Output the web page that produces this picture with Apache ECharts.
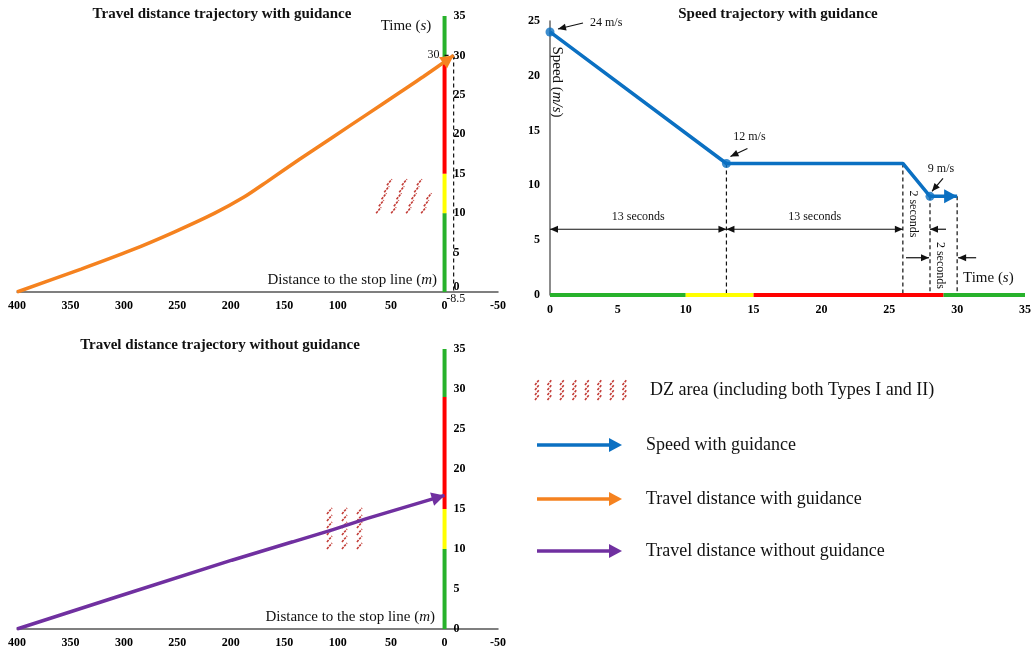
<!DOCTYPE html>
<html>
<head>
<meta charset="utf-8">
<title>Trajectories with and without guidance</title>
<script src="https://cdn.jsdelivr.net/npm/echarts@6/dist/echarts.min.js"></script>
<style>
  html, body { margin: 0; padding: 0; background: #fff; }
  #chart { width: 1034px; height: 652px; }
</style>
</head>
<body>
<div id="chart"></div>
<script>
// ---------------- data ----------------
// axis ticks
const distanceTicks = [400, 350, 300, 250, 200, 150, 100, 50, 0, -50]; // distance to stop line (m)
const timeTicks = [0, 5, 10, 15, 20, 25, 30, 35];                     // time (s)
const speedTicks = [0, 5, 10, 15, 20, 25];                            // speed (m/s)

// signal timing at the stop line (s)
const signalBreaks = [0, 10, 15, 29, 35];
const signalPhases = ['green', 'yellow', 'red', 'green'];

// travel distance with guidance
const guidedDistance = [400, 340, 293, 253, 215, 188, 166, 136, 105, 74, 42, 20, -8.5];
const guidedTime     = [0, 2.9, 5.3, 7.6, 10.0, 12.0, 14.0, 16.8, 19.6, 22.4, 25.3, 27.3, 30];

// travel distance without guidance
const unguidedDistance = [400, 307, 199, 142, 105, 73, 0];
const unguidedTime     = [0, 4.0, 8.6, 10.9, 12.4, 13.8, 16.7];

// speed profile with guidance
const speedTime  = [0, 13, 26, 28, 30];
const speedValue = [24, 12, 12, 9, 9];
const speedMarked = [0, 1, 3]; // profile points carrying a value call-out

// dilemma-zone areas: [distance from, distance to, time from, time to]
const dzGuided   = [12, 64, 10, 15];
const dzUnguided = [77, 110, 10, 15];

// ---------------- styling ----------------
const FONT = '"Liberation Serif", "Times New Roman", serif';
const INK = '#111';
const PHASE_COLOR = { green: '#27b22b', yellow: '#ffff00', red: '#ff0000' };
const ORANGE = '#f5821f';
const PURPLE = '#7030a0';
const BLUE = '#0b70c2';
const HATCH = '#c23b35';

// distance panels share this horizontal geometry
const DIST_LEFT = 17, DIST_RIGHT = 536, CHART_W = 1034;

function axisRange(ticks) {
  return {
    min: Math.min(...ticks),
    max: Math.max(...ticks),
    interval: Math.abs(ticks[1] - ticks[0])
  };
}

function textEl(x, y, text, style, extra) {
  const s = Object.assign({
    text: text, fill: INK, fontFamily: FONT, fontSize: 12,
    align: 'center', verticalAlign: 'middle'
  }, style || {});
  s.textAlign = s.align;
  s.textVerticalAlign = s.verticalAlign;
  return Object.assign({ type: 'text', x: x, y: y, silent: true, style: s }, extra || {});
}

function richStyles(size, weight) {
  return {
    n: { fontFamily: FONT, fontSize: size, fontWeight: weight || 'normal', fill: INK, color: INK },
    i: { fontFamily: FONT, fontSize: size, fontStyle: 'italic', fontWeight: weight || 'normal', fill: INK, color: INK }
  };
}

// filled triangular head with its tip on `tip`, pointing away from `from`
function headPoly(tip, from, len, wid, color) {
  const dx = tip[0] - from[0], dy = tip[1] - from[1];
  const L = Math.hypot(dx, dy) || 1;
  const ux = dx / L, uy = dy / L;
  const bx = tip[0] - ux * len, by = tip[1] - uy * len;
  return {
    type: 'polygon', silent: true,
    shape: { points: [[tip[0], tip[1]], [bx - uy * wid / 2, by + ux * wid / 2], [bx + uy * wid / 2, by - ux * wid / 2]] },
    style: { fill: color }
  };
}

function thinArrow(from, tip, doubleHead) {
  const out = [{
    type: 'line', silent: true,
    shape: { x1: from[0], y1: from[1], x2: tip[0], y2: tip[1] },
    style: { stroke: INK, lineWidth: 1.2 }
  }, headPoly(tip, from, 8, 7, INK)];
  if (doubleHead) out.push(headPoly(from, tip, 8, 7, INK));
  return out;
}

function dashLine(a, b) {
  return {
    type: 'line', silent: true,
    shape: { x1: a[0], y1: a[1], x2: b[0], y2: b[1] },
    style: { stroke: INK, lineWidth: 1.2, lineDash: [4, 3] }
  };
}

// short dashed strokes filling a pixel rectangle
function hatchStrokes(x0, y0, x1, y1, shear, colGap, rowGap, w, h) {
  const out = [];
  let row = 0;
  for (let y = y1; y - h >= y0 - 1; y -= rowGap, row++) {
    for (let x = x0 + row * shear; x + w <= x1 + 1; x += colGap) {
      out.push({
        type: 'line', silent: true,
        shape: { x1: x, y1: y, x2: x + w, y2: y - h },
        style: { stroke: HATCH, lineWidth: 1.6, lineDash: [2.5, 1] }
      });
    }
  }
  return out;
}

// ---------------- axes ----------------
const labelBold = { color: '#000', fontFamily: FONT, fontWeight: 'bold', fontSize: 12 };

function distanceAxis(gi) {
  return Object.assign({
    type: 'value', gridIndex: gi, inverse: true,
    axisLine: { onZero: false, lineStyle: { color: '#555', width: 1.5 } },
    axisTick: { show: false }, splitLine: { show: false },
    axisLabel: Object.assign({ margin: 8 }, labelBold)
  }, axisRange(distanceTicks));
}

// time axis stands on the stop line (distance 0): it is pulled in from the
// right edge of the panel by the width of the negative-distance strip
function timeAxis(gi, liftZero) {
  const r = axisRange(distanceTicks);
  const plotW = CHART_W - DIST_LEFT - DIST_RIGHT;
  const pull = plotW * (0 - r.min) / (r.max - r.min);
  return Object.assign({
    type: 'value', gridIndex: gi, position: 'right', offset: -pull,
    axisLine: { show: false, onZero: false },
    axisTick: { show: false }, splitLine: { show: false },
    axisLabel: Object.assign({
      margin: 9,
      formatter: v => (v === 0 && liftZero ? '{z|0}' : String(v)),
      rich: { z: Object.assign({ padding: [0, 0, 11, 0] }, labelBold) }
    }, labelBold)
  }, axisRange(timeTicks));
}

// ---------------- series ----------------
const phaseData = signalPhases.map((p, i) => [signalBreaks[i], signalBreaks[i + 1], i]);

function signalSeries(gi, vertical) {
  return {
    type: 'custom', xAxisIndex: gi, yAxisIndex: gi, z: 4, silent: true,
    data: phaseData,
    renderItem: (params, api) => {
      const a = api.value(0), b = api.value(1);
      const phase = signalPhases[api.value(2)];
      const p0 = vertical ? api.coord([0, a]) : api.coord([a, 0]);
      const p1 = vertical ? api.coord([0, b]) : api.coord([b, 0]);
      return {
        type: 'line',
        shape: { x1: p0[0], y1: p0[1], x2: p1[0], y2: p1[1] },
        style: { stroke: PHASE_COLOR[phase], lineWidth: 4 }
      };
    }
  };
}

function trajectorySeries(gi, xs, ys, color, smooth) {
  return {
    type: 'line', xAxisIndex: gi, yAxisIndex: gi, z: 6, silent: true,
    data: xs.map((x, i) => [x, ys[i]]),
    smooth: smooth, symbol: 'none', showSymbol: false,
    lineStyle: { color: color, width: 3.5 }, itemStyle: { color: color }
  };
}

function arrowHeadSeries(gi, xs, ys, color) {
  const n = xs.length;
  return {
    type: 'custom', xAxisIndex: gi, yAxisIndex: gi, z: 7, silent: true,
    data: [[xs[n - 2], ys[n - 2], xs[n - 1], ys[n - 1]]],
    renderItem: (params, api) => headPoly(
      api.coord([api.value(2), api.value(3)]),
      api.coord([api.value(0), api.value(1)]),
      13, 14, color)
  };
}

function dzSeries(gi, dz, shear) {
  return {
    type: 'custom', xAxisIndex: gi, yAxisIndex: gi, z: 3, silent: true,
    data: [dz],
    renderItem: (params, api) => {
      const a = api.coord([api.value(0), api.value(2)]);
      const b = api.coord([api.value(1), api.value(3)]);
      return {
        type: 'group',
        children: hatchStrokes(Math.min(a[0], b[0]), Math.min(a[1], b[1]),
          Math.max(a[0], b[0]), Math.max(a[1], b[1]), shear, 15, 7, 5, 6)
      };
    }
  };
}

// end of the guided trajectory: time and position marked on the axes
const guidedEnd = {
  type: 'custom', xAxisIndex: 0, yAxisIndex: 0, z: 5, silent: true,
  data: [[guidedDistance[guidedDistance.length - 1], guidedTime[guidedTime.length - 1]]],
  renderItem: (params, api) => {
    const d = api.value(0), t = api.value(1);
    const e = api.coord([d, t]), onBar = api.coord([0, t]), onAxis = api.coord([d, 0]);
    return {
      type: 'group',
      children: [
        dashLine(onBar, e),
        dashLine(e, onAxis),
        textEl(onBar[0] - 5, onBar[1] - 1, String(t), { align: 'right' }),
        textEl(onAxis[0] + 2, onAxis[1] + 1, String(d), { verticalAlign: 'top' })
      ]
    };
  }
};

// dashed drop lines from the speed profile's break points
const speedDrops = {
  type: 'custom', xAxisIndex: 2, yAxisIndex: 2, z: 3, silent: true,
  data: speedTime.slice(1).map((t, i) => [t, speedValue[i + 1]]),
  renderItem: (params, api) => dashLine(api.coord([api.value(0), api.value(1)]), api.coord([api.value(0), 0]))
};

// value call-outs (pixel offsets from the marked point) and duration spans
const calloutOffsets = [
  { head: [8, -3], tail: [33, -9], text: [40, -9], align: 'left' },
  { head: [4, -7], tail: [21, -15], text: [23, -27], align: 'center' },
  { head: [2, -5], tail: [13, -18], text: [11, -28], align: 'center' }
];
const spanLevels = [6, 3.4]; // speed-axis heights of the duration arrows

const speedNotes = {
  type: 'custom', xAxisIndex: 2, yAxisIndex: 2, z: 8, silent: true,
  data: [[0, 0]],
  renderItem: (params, api) => {
    const kids = [];
    const P = i => api.coord([speedTime[i], speedValue[i]]);
    const X = t => api.coord([t, 0])[0];
    const Y = v => api.coord([0, v])[1];

    calloutOffsets.forEach((c, k) => {
      const i = speedMarked[k], p = P(i);
      kids.push(...thinArrow([p[0] + c.tail[0], p[1] + c.tail[1]], [p[0] + c.head[0], p[1] + c.head[1]]));
      kids.push(textEl(p[0] + c.text[0], p[1] + c.text[1], speedValue[i] + ' m/s', { align: c.align }));
    });

    const yA = Y(spanLevels[0]), yB = Y(spanLevels[1]);
    const x = speedTime.map(X);
    const secs = i => (speedTime[i + 1] - speedTime[i]) + ' seconds';

    // long spans: double-headed arrows with the label above
    [0, 1].forEach(i => {
      kids.push(...thinArrow([x[i], yA], [x[i + 1], yA], true));
      kids.push(textEl((x[i] + x[i + 1]) / 2, yA - 12, secs(i)));
    });
    // short spans: arrows pointing in from outside, rotated label between
    kids.push(...thinArrow([x[3] + 16, yA], [x[3], yA]));
    kids.push(textEl((x[2] + x[3]) / 2 - 3, Y(7.4), secs(2), {}, { rotation: -Math.PI / 2 }));
    kids.push(...thinArrow([x[3] - 24, yB], [x[3] - 1, yB]));
    kids.push(...thinArrow([x[4] + 19, yB], [x[4] + 1, yB]));
    kids.push(textEl((x[3] + x[4]) / 2 - 3, Y(2.7), secs(3), {}, { rotation: -Math.PI / 2 }));

    return { type: 'group', children: kids };
  }
};

// ---------------- legend (drawn) ----------------
function legendArrow(y, color) {
  return [
    { type: 'line', silent: true, shape: { x1: 537, y1: y, x2: 612, y2: y }, style: { stroke: color, lineWidth: 3.5 } },
    headPoly([622, y], [537, y], 13, 14, color)
  ];
}
const legendFont = { fontSize: 18, align: 'left' };
const legendRows = [
  { y: 390, label: 'DZ area (including both Types I and II)' },
  { y: 445, label: 'Speed with guidance', color: BLUE },
  { y: 499, label: 'Travel distance with guidance', color: ORANGE },
  { y: 551, label: 'Travel distance without guidance', color: PURPLE }
];
const legendEls = [];
legendRows.forEach(r => {
  if (r.color) legendEls.push(...legendArrow(r.y, r.color));
  else legendEls.push(...hatchStrokes(535, r.y - 10, 630, r.y + 10, 0, 12.5, 5, 4, 5));
  legendEls.push(textEl(r.color ? 646 : 650, r.y, r.label, legendFont));
});

// ---------------- chart ----------------
const chart = echarts.init(document.getElementById('chart'), null, { renderer: 'canvas' });

chart.setOption({
  animation: false,
  backgroundColor: '#fff',
  grid: [
    { left: DIST_LEFT, right: DIST_RIGHT, top: 16, bottom: 360, outerBoundsMode: 'none' },
    { left: DIST_LEFT, right: DIST_RIGHT, top: 349, bottom: 23, outerBoundsMode: 'none' },
    { left: 550, right: 9, top: 21, bottom: 357, outerBoundsMode: 'none' }
  ],
  xAxis: [
    distanceAxis(0),
    distanceAxis(1),
    Object.assign({
      type: 'value', gridIndex: 2,
      axisLine: { show: false }, axisTick: { show: false }, splitLine: { show: false },
      axisLabel: Object.assign({ margin: 9 }, labelBold)
    }, axisRange(timeTicks))
  ],
  yAxis: [
    timeAxis(0, true),
    timeAxis(1, false),
    Object.assign({
      type: 'value', gridIndex: 2,
      axisLine: { show: true, lineStyle: { color: '#666', width: 1.5 } },
      axisTick: { show: false }, splitLine: { show: false },
      axisLabel: Object.assign({ margin: 10 }, labelBold)
    }, axisRange(speedTicks))
  ],
  series: [
    signalSeries(0, true),
    signalSeries(1, true),
    signalSeries(2, false),
    dzSeries(0, dzGuided, 2.7),
    dzSeries(1, dzUnguided, 0),
    guidedEnd,
    trajectorySeries(0, guidedDistance, guidedTime, ORANGE, 0.25),
    arrowHeadSeries(0, guidedDistance, guidedTime, ORANGE),
    trajectorySeries(1, unguidedDistance, unguidedTime, PURPLE, false),
    arrowHeadSeries(1, unguidedDistance, unguidedTime, PURPLE),
    speedDrops,
    trajectorySeries(2, speedTime, speedValue, BLUE, false),
    arrowHeadSeries(2, speedTime, speedValue, BLUE),
    {
      type: 'scatter', xAxisIndex: 2, yAxisIndex: 2, z: 8, silent: true,
      data: speedMarked.map(i => [speedTime[i], speedValue[i]]),
      symbol: 'circle', symbolSize: 9, itemStyle: { color: BLUE }
    },
    speedNotes
  ],
  graphic: {
    elements: [
      textEl(222, 14, 'Travel distance trajectory with guidance', { fontSize: 15, fontWeight: 'bold' }),
      textEl(778, 14, 'Speed trajectory with guidance', { fontSize: 15, fontWeight: 'bold' }),
      textEl(220, 345, 'Travel distance trajectory without guidance', { fontSize: 15, fontWeight: 'bold' }),
      textEl(406, 26, '{n|Time (}{i|s}{n|)}', { fontSize: 15, rich: richStyles(15) }),
      textEl(437, 280, '{n|Distance to the stop line (}{i|m}{n|)}', { fontSize: 15, align: 'right', rich: richStyles(15) }),
      textEl(435, 617, '{n|Distance to the stop line (}{i|m}{n|)}', { fontSize: 15, align: 'right', rich: richStyles(15) }),
      textEl(557, 82, '{n|Speed (}{i|m/s}{n|)}', { fontSize: 15, rich: richStyles(15) }, { rotation: -Math.PI / 2 }),
      textEl(963, 278, '{n|Time (}{i|s}{n|)}', { fontSize: 15, align: 'left', rich: richStyles(15) })
    ].concat(legendEls)
  }
});
</script>
</body>
</html>
